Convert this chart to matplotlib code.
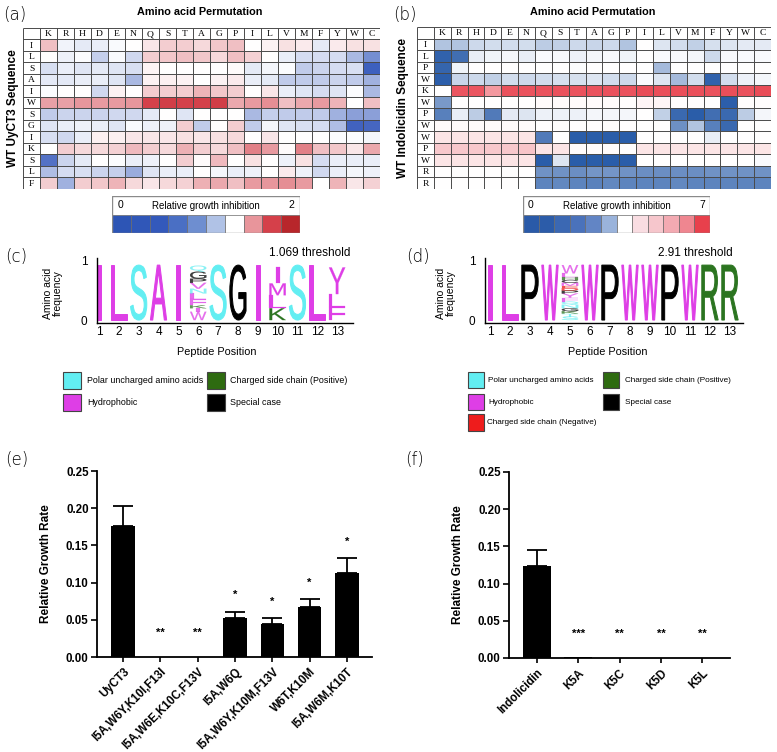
import numpy as np
import matplotlib
matplotlib.use('Agg')
import matplotlib.pyplot as plt
from matplotlib.colors import LinearSegmentedColormap, TwoSlopeNorm
from matplotlib.textpath import TextPath
from matplotlib.font_manager import FontProperties
from matplotlib.patches import PathPatch, Rectangle
from matplotlib.transforms import Affine2D

# ---------------- data ----------------
aa_cols = list("KRHDENQSTAGPILVMFYWC")
uyct3_seq = list("ILSAIWSGIKSLF")
indol_seq = list("ILPWKWPWWPWRR")

uyct3_heat = [
    [1.25,0.93,0.88,0.90,0.97,1.00,1.10,1.20,1.20,1.15,1.22,1.25,1.00,1.05,1.12,1.08,0.88,1.08,1.12,1.12],
    [1.00,0.92,0.98,0.72,0.97,0.78,1.20,1.22,1.25,1.22,1.15,1.25,1.18,1.00,0.90,0.80,0.80,0.80,0.60,0.35],
    [0.82,0.90,0.85,0.88,0.85,0.82,1.04,1.00,1.00,1.00,1.00,1.02,0.88,0.95,0.98,0.70,0.75,0.80,0.82,0.08],
    [0.87,0.87,0.90,0.90,0.85,0.60,1.05,1.06,1.05,1.00,1.05,1.08,0.90,0.88,0.70,0.70,0.70,0.75,0.70,0.55],
    [0.98,1.00,1.00,0.78,1.05,1.00,1.20,1.20,1.20,1.30,1.22,1.20,1.00,1.10,0.90,0.85,0.80,0.85,0.98,0.60],
    [1.38,1.38,1.42,1.40,1.40,1.42,1.75,1.78,1.75,1.75,1.78,1.35,1.40,1.45,1.25,1.35,1.40,1.30,1.00,1.25],
    [0.70,0.75,0.75,0.75,0.78,0.78,0.88,1.00,0.85,1.00,1.00,1.00,0.60,0.72,0.70,0.70,0.70,0.55,0.45,0.45],
    [0.85,0.90,0.92,0.90,0.85,0.97,0.92,0.92,1.20,0.70,1.00,1.20,0.70,0.95,0.85,0.82,0.80,0.62,0.10,0.12],
    [0.82,0.78,0.90,1.06,1.06,1.10,1.10,1.10,1.12,1.10,1.12,1.15,1.00,1.10,1.00,1.00,1.00,0.98,0.98,0.95],
    [1.00,1.20,1.15,1.15,1.18,1.28,1.20,1.15,1.32,1.20,1.15,1.25,1.50,1.40,1.02,1.50,1.25,1.22,1.10,1.35],
    [0.18,0.75,0.88,1.00,0.98,0.90,0.92,1.00,1.20,1.02,1.28,1.00,1.12,1.00,0.92,1.12,0.80,0.90,0.90,0.90],
    [0.62,0.80,0.82,0.75,0.72,0.52,0.85,0.90,0.90,1.00,0.95,0.90,0.92,1.00,1.08,0.92,0.78,0.90,0.95,0.92],
    [1.20,0.55,1.20,1.22,1.30,1.15,1.10,1.15,1.18,1.32,1.35,1.25,1.40,1.42,1.45,1.40,1.00,1.30,1.10,1.18],
]

indol_heat = [
    [0.65,0.65,0.78,0.80,0.80,0.80,0.70,0.72,0.78,0.75,0.78,0.65,1.00,0.85,0.80,0.72,0.82,0.85,0.88,0.88],
    [0.08,0.15,0.90,0.93,0.95,0.90,0.97,0.97,0.92,0.95,0.97,0.93,1.00,0.97,0.97,0.95,0.78,0.97,0.97,0.97],
    [0.10,0.93,1.00,1.00,1.00,1.00,1.00,1.00,0.98,1.00,1.00,1.00,1.00,0.60,1.00,1.00,1.00,1.00,1.00,1.00],
    [0.06,0.75,0.78,0.72,0.80,0.78,0.80,0.82,0.82,0.85,0.80,0.78,0.97,0.85,0.60,0.80,0.08,0.80,0.92,0.95],
    [1.00,6.30,6.30,4.20,6.40,6.40,6.40,6.40,6.40,6.40,6.40,6.40,6.60,6.50,6.50,6.50,6.40,6.50,6.40,6.60],
    [0.40,1.00,1.00,1.00,1.00,1.00,1.10,1.10,1.10,1.10,1.10,1.05,1.30,1.30,1.05,1.05,1.00,0.06,1.05,1.05],
    [0.25,0.90,0.70,0.22,0.88,0.85,0.92,0.92,0.92,0.95,0.95,0.95,1.00,0.72,0.12,0.05,0.15,0.12,0.70,0.95],
    [1.10,1.10,1.10,1.10,1.10,1.10,1.05,1.05,1.05,1.05,1.05,1.05,1.00,1.00,0.35,0.65,0.25,0.12,1.00,1.00],
    [1.80,1.80,1.80,1.80,1.80,1.80,0.22,1.00,0.05,0.05,0.05,0.05,1.00,1.00,1.00,1.00,0.90,1.00,1.00,1.00],
    [2.70,2.70,2.70,2.70,2.70,2.80,1.80,1.80,1.10,1.10,1.10,1.05,1.80,1.80,1.80,1.80,1.80,1.80,1.80,1.80],
    [1.80,1.80,1.80,1.80,1.80,1.80,0.05,0.85,0.05,0.05,0.05,0.05,1.00,1.00,1.00,1.00,1.00,1.00,1.00,0.97],
    [1.00,1.00,1.00,1.00,1.00,1.00,0.36,0.36,0.34,0.38,0.38,0.36,0.34,0.34,0.34,0.34,0.36,0.36,0.36,0.36],
    [1.00,1.00,1.00,1.00,1.00,1.00,0.28,0.30,0.28,0.26,0.30,0.28,0.28,0.28,0.30,0.28,0.28,0.28,0.28,0.28],
]

uyct3_logo = [
    [('I', 0.93)], [('L', 0.93)], [('S', 0.93)], [('A', 0.93)], [('I', 0.93)],
    [('W', 0.14), ('I', 0.06), ('K', 0.05), ('F', 0.10), ('L', 0.10), ('N', 0.08),
     ('V', 0.10), ('P', 0.07), ('G', 0.12), ('Q', 0.10)],
    [('S', 0.93)], [('G', 0.93)], [('I', 0.93)],
    [('K', 0.20), ('L', 0.22), ('M', 0.20), ('I', 0.28)],
    [('S', 0.93)], [('L', 0.93)],
    [('F', 0.22), ('L', 0.22), ('Y', 0.45)],
]
indol_logo = [
    [('I', 0.93)], [('L', 0.93)], [('P', 0.93)], [('W', 0.93)],
    [('S', 0.06), ('T', 0.05), ('K', 0.04), ('G', 0.05), ('N', 0.06), ('Q', 0.05),
     ('F', 0.07), ('Y', 0.07), ('P', 0.05), ('D', 0.04), ('E', 0.04), ('M', 0.05),
     ('C', 0.05), ('H', 0.05), ('L', 0.06), ('W', 0.14)],
    [('W', 0.93)], [('P', 0.93)], [('W', 0.93)], [('W', 0.93)], [('P', 0.93)],
    [('W', 0.93)], [('R', 0.93)], [('R', 0.93)],
]
uyct3_threshold = "1.069 threshold"
indol_threshold = "2.91 threshold"

e_labels = ['UyCT3', 'I5A,W6Y,K10I,F13I', 'I5A,W6E,K10C,F13V', 'I5A,W6Q',
            'I5A,W6Y,K10M,F13V', 'W6T,K10M', 'I5A,W6M,K10T']
e_means = [0.176, 0.0, 0.0, 0.052, 0.045, 0.067, 0.113]
e_errs = [0.027, 0.0, 0.0, 0.009, 0.007, 0.011, 0.020]
e_sig = ['', '**', '**', '*', '*', '*', '*']

f_labels = ['Indolicidin', 'K5A', 'K5C', 'K5D', 'K5L']
f_means = [0.124, 0.0015, 0.0, 0.0, 0.0]
f_errs = [0.021, 0.0, 0.0, 0.0, 0.0]
f_sig = ['', '***', '**', '**', '**']

# ---------------- styles ----------------
W_PX, H_PX = 777, 752
SANS = 'Liberation Sans'
SERIF = 'Liberation Serif'
CYAN, MAGENTA, GREEN, RED, BLACK = '#62eef2', '#de3ee6', '#2b7420', '#ee1c1c', '#000000'
class_color = {}
for c in "STNQ": class_color[c] = CYAN
for c in "AILMFWVY": class_color[c] = MAGENTA
for c in "KRH": class_color[c] = GREEN
for c in "DE": class_color[c] = RED
for c in "GPC": class_color[c] = BLACK

fig = plt.figure(figsize=(W_PX / 100, H_PX / 100), dpi=100)


def px_axes(l, t, r, b):
    return fig.add_axes([l / W_PX, 1 - b / H_PX, (r - l) / W_PX, (b - t) / H_PX])


ov = fig.add_axes([0, 0, 1, 1])
ov.set_xlim(0, W_PX)
ov.set_ylim(H_PX, 0)
ov.axis('off')

# ---------------- heatmaps ----------------
cmap_a = LinearSegmentedColormap.from_list(
    'a', [(0, '#2d52b8'), (0.5, '#ffffff'), (0.7, '#e89ba1'), (0.875, '#d5424b'), (1, '#b52228')])
cmap_b = LinearSegmentedColormap.from_list('b', [(0, '#2055a5'), (0.5, '#ffffff'), (1, '#e8404c')])
norm_a = TwoSlopeNorm(vmin=0, vcenter=1, vmax=2)
norm_b = TwoSlopeNorm(vmin=0, vcenter=1, vmax=7)
GRID = '#4a4a4a'


def draw_heatmap(ax, data, rows, cols, cmap, norm):
    data = np.array(data)
    nr, nc = data.shape
    ax.pcolormesh(np.arange(nc + 1), np.arange(nr + 1), data, cmap=cmap, norm=norm)
    ax.set_xlim(-1, nc)
    ax.set_ylim(nr, -1)
    ax.vlines(np.arange(-1, nc + 1), -1, nr, colors=GRID, lw=0.7)
    ax.hlines(np.arange(-1, nr + 1), -1, nc, colors=GRID, lw=0.7)
    for j, c in enumerate(cols):
        ax.text(j + 0.5, -0.45, c, ha='center', va='center', family=SERIF, fontsize=6.8)
    for i, r in enumerate(rows):
        ax.text(-0.5, i + 0.55, r, ha='center', va='center', family=SERIF, fontsize=6.8)
    ax.axis('off')


draw_heatmap(px_axes(23, 28, 380, 189), uyct3_heat, uyct3_seq, aa_cols, cmap_a, norm_a)
draw_heatmap(px_axes(417, 27, 771, 189), indol_heat, indol_seq, aa_cols, cmap_b, norm_b)

ov.text(200, 12, 'Amino acid Permutation', ha='center', va='center', family=SANS,
        weight='bold', fontsize=7.8)
ov.text(593, 12, 'Amino acid Permutation', ha='center', va='center', family=SANS,
        weight='bold', fontsize=7.8)
ov.text(13, 108, 'WT UyCT3 Sequence', ha='center', va='center', rotation=90,
        family=SANS, weight='bold', fontsize=8.5)
ov.text(403, 108, 'WT Indolicidin Sequence', ha='center', va='center', rotation=90,
        family=SANS, weight='bold', fontsize=8.5)

legend_a_colors = ['#2d55b5', '#3057b8', '#3359bb', '#4a6fc4', '#6e8ed0', '#b0c2e6',
                   '#ffffff', '#e8959b', '#d5404a', '#b8262b']
legend_b_colors = ['#2a5aa8', '#2c5ca9', '#3b68b3', '#4a72bb', '#6285c5', '#9ab3db',
                   '#ffffff', '#f9dde2', '#f6c6cc', '#f3aab2', '#ef8690', '#e8404c']


def draw_scale(ax, colors, lo, hi):
    n = len(colors)
    ax.set_xlim(0, n)
    ax.set_ylim(0, 2)
    for i, c in enumerate(colors):
        ax.add_patch(Rectangle((i, 0), 1, 1, facecolor=c, edgecolor='#6a6a6a', lw=0.5))
    ax.add_patch(Rectangle((0, 0), n, 2, fill=False, edgecolor='#8a8a8a', lw=1.0))
    ax.text(0.3, 1.5, lo, ha='left', va='center', family=SANS, fontsize=7.5)
    ax.text(n - 0.3, 1.5, hi, ha='right', va='center', family=SANS, fontsize=7.5)
    ax.text(n / 2, 1.45, 'Relative growth inhibition', ha='center', va='center',
            family=SANS, fontsize=7)
    ax.axis('off')


draw_scale(px_axes(112, 196, 300, 233), legend_a_colors, '0', '2')
draw_scale(px_axes(523, 196, 710, 233), legend_b_colors, '0', '7')

# ---------------- logos ----------------
logo_font = FontProperties(family=SANS, weight='normal')


def draw_letter(ax, ch, x, y, w, h, color):
    tp = TextPath((0, 0), ch, size=1, prop=logo_font)
    bb = tp.get_extents()
    tr = Affine2D().translate(-bb.x0, -bb.y0).scale(w / bb.width, h / bb.height).translate(x - w / 2, y)
    lw = 0.7 if h > 0.5 else 0.15
    alpha = 1.0 if h > 0.15 else 0.75
    ax.add_patch(PathPatch(tr.transform_path(tp), facecolor=color, edgecolor=color,
                           lw=lw, joinstyle='miter', alpha=alpha))


def draw_logo(ax, stacks, xlim, threshold):
    for pos, stack in enumerate(stacks, start=1):
        y0 = 0.0
        for ch, h in stack:
            w = 0.2 if ch == 'I' else 0.82
            draw_letter(ax, ch, pos, y0, w, h, class_color[ch])
            y0 += h
    ax.set_xlim(*xlim)
    ax.set_ylim(-0.05, 1.05)
    ax.set_xticks(range(1, len(stacks) + 1))
    ax.set_yticks([0, 1])
    ax.tick_params(length=0, labelsize=8.5, pad=2)
    ax.tick_params(axis='y', pad=7)
    for lab in ax.get_xticklabels() + ax.get_yticklabels():
        lab.set_family(SANS)
    for s in ['top', 'right']:
        ax.spines[s].set_visible(False)
    for s in ['left', 'bottom']:
        ax.spines[s].set_linewidth(1.0)
    ax.patch.set_alpha(0)


ax_c = px_axes(97, 258, 353, 323)
draw_logo(ax_c, uyct3_logo, (0.9, 13.8), uyct3_threshold)
ax_d = px_axes(485, 258, 743, 323)
draw_logo(ax_d, indol_logo, (0.75, 13.65), indol_threshold)

ov.text(350, 253, uyct3_threshold, ha='right', va='center', family=SANS, fontsize=8.5)
ov.text(733, 253, indol_threshold, ha='right', va='center', family=SANS, fontsize=8.5)
for xc in (53, 446):
    ov.text(xc, 293, 'Amino acid\nfrequency', ha='center', va='center', rotation=90,
            family=SANS, fontsize=7.5, linespacing=1.0)
ov.text(217, 352, 'Peptide Position', ha='center', va='center', family=SANS, fontsize=7.8)
ov.text(608, 352, 'Peptide Position', ha='center', va='center', family=SANS, fontsize=7.8)


def legend_item(x, y, w, h, color, text, tx, fs):
    ov.add_patch(Rectangle((x, y), w, h, facecolor=color, edgecolor='#444444', lw=0.8))
    ov.text(tx, y + h / 2, text, ha='left', va='center', family=SANS, fontsize=fs)


legend_item(63, 372, 18, 17, CYAN, 'Polar uncharged amino acids', 87, 6.4)
legend_item(63, 394, 18, 17, MAGENTA, 'Hydrophobic', 87, 6.4)
legend_item(207, 372, 18, 17, '#2e6b10', 'Charged side chain (Positive)', 230, 6.4)
legend_item(207, 394, 18, 17, BLACK, 'Special case', 230, 6.4)

legend_item(468, 372, 16, 16, CYAN, 'Polar uncharged amino acids', 488, 5.9)
legend_item(468, 394, 16, 16, MAGENTA, 'Hydrophobic', 488, 5.9)
legend_item(468, 414, 16, 17, RED, 'Charged side chain (Negative)', 487, 5.9)
legend_item(603, 372, 16, 16, '#2e6b10', 'Charged side chain (Positive)', 625, 5.9)
legend_item(603, 394, 16, 16, BLACK, 'Special case', 625, 5.9)

# ---------------- bar charts ----------------


def draw_bars(ax, labels, means, errs, sig, width, xlim):
    x = np.arange(len(labels))
    ax.bar(x, means, width=width, color='black', zorder=2)
    m = np.array(errs) > 0
    ax.errorbar(x[m], np.array(means)[m], yerr=[np.zeros(m.sum()), np.array(errs)[m]],
                fmt='none', ecolor='black', elinewidth=1.3, capsize=7.5, capthick=1.3, zorder=1)
    for xi, mu, er, s in zip(x, means, errs, sig):
        if s:
            y = max(mu + er + 0.022, 0.033)
            ax.text(xi, y, s, ha='center', va='center', family=SANS, weight='bold', fontsize=8)
    ax.set_xlim(*xlim)
    ax.set_ylim(0, 0.25)
    ax.set_yticks(np.arange(0, 0.2501, 0.05))
    ax.set_yticklabels(['%.2f' % v for v in np.arange(0, 0.2501, 0.05)])
    ax.set_xticks(x)
    ax.set_xticklabels(labels, rotation=45, ha='right', rotation_mode='anchor')
    for lab in ax.get_xticklabels() + ax.get_yticklabels():
        lab.set_family(SANS)
        lab.set_weight('bold')
        lab.set_fontsize(8.3)
    ax.tick_params(axis='y', length=4, width=1.2, direction='out', pad=2)
    ax.tick_params(axis='x', length=3.5, width=1.2, direction='out', pad=3)
    for s in ['top', 'right']:
        ax.spines[s].set_visible(False)
    for s in ['left', 'bottom']:
        ax.spines[s].set_linewidth(1.3)
    ax.set_ylabel('Relative Growth Rate', family=SANS, weight='bold', fontsize=8.5, labelpad=10)


ax_e = px_axes(97, 471, 372, 657)
draw_bars(ax_e, e_labels, e_means, e_errs, e_sig, 0.63, (-0.7, 6.67))
ax_f = px_axes(509, 472, 730, 658)
draw_bars(ax_f, f_labels, f_means, f_errs, f_sig, 0.67, (-0.67, 4.67))

# ---------------- panel labels ----------------
for txt, x, y in [('(a)', 3, 15), ('(b)', 393, 15), ('(c)', 5, 257), ('(d)', 406, 257),
                  ('(e)', 5, 460), ('(f)', 405, 460)]:
    ov.text(x, y, txt, ha='left', va='center', family='DejaVu Sans', fontsize=12,
            weight='light')

fig.savefig('out.png', dpi=100)
